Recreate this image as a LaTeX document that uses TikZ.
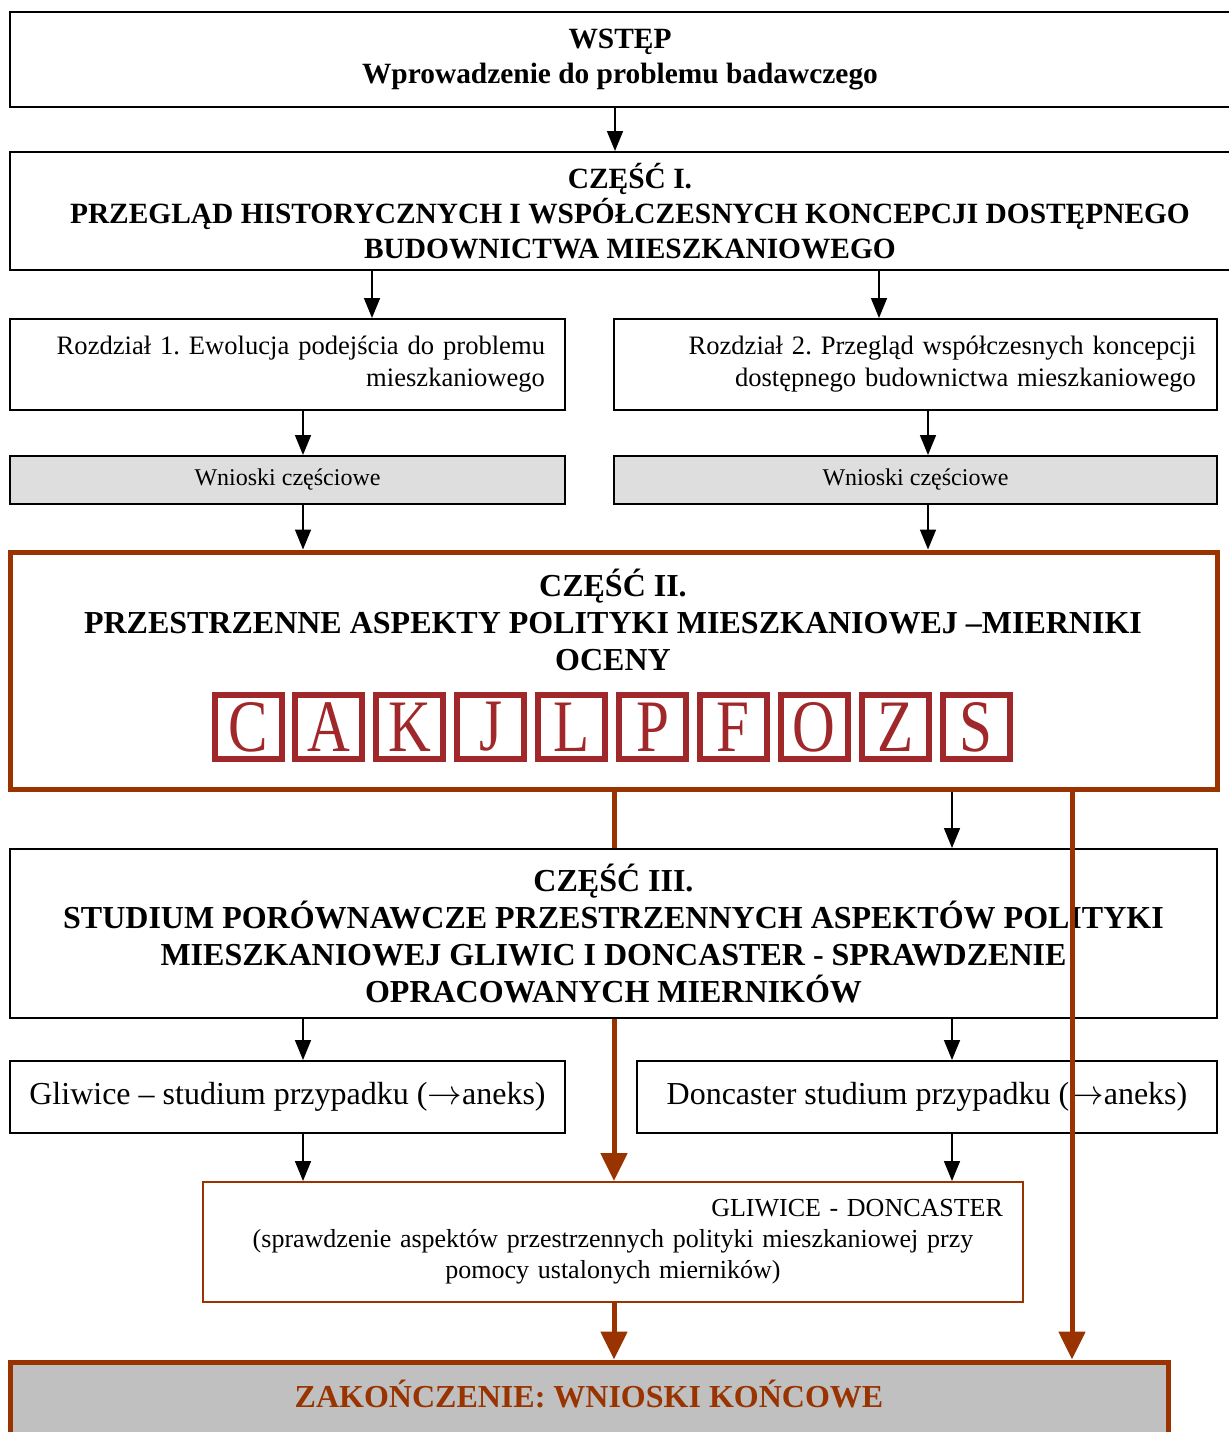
\documentclass[tikz,border=0pt]{standalone}
\usepackage{fontspec}
\setmainfont{Liberation Serif}
\newfontfamily\letterfont[FakeStretch=0.8]{Liberation Serif}
\usetikzlibrary{arrows.meta}
\frenchspacing

\definecolor{rust}{HTML}{993300}
\definecolor{brick}{HTML}{A0282A}
\definecolor{wngrey}{HTML}{DEDEDE}
\definecolor{endgrey}{HTML}{C0C0C0}

\begin{document}
\begin{tikzpicture}[x=0.5pt, y=-0.5pt,
    box/.style={draw, line width=1pt, fill=white, rectangle, inner sep=0pt, align=center},
    title/.style={font=\bfseries\fontsize{14.7}{17.5}\selectfont},
    bigtitle/.style={font=\bfseries\fontsize{16}{18.4}\selectfont},
    plain/.style={font=\fontsize{13.3}{16}\selectfont},
    letterbox/.style={draw=brick, line width=3pt, fill=white, minimum width=33.5pt, minimum height=32pt,
        inner sep=0pt, text=brick, font=\letterfont\fontsize{37}{37}\selectfont},
    arr/.style={-{Triangle[width=8pt,length=10pt]}, line width=0.8pt},
    rustline/.style={draw=rust, line width=2.5pt},
    rustarr/.style={rustline, -{Triangle[width=13pt,length=14pt]}}]

\path[fill=white] (0,0) rectangle (1229,1432);
\useasboundingbox (0,0) rectangle (1229,1432);

% columns for the connectors
\coordinate (colTop) at (615,0);
\coordinate (colI) at (372,0);
\coordinate (colII) at (879,0);
\coordinate (colA) at (303,0);
\coordinate (colB) at (928,0);
\coordinate (colC) at (952,0);
\coordinate (colM) at (614,0);
\coordinate (colR) at (1072,0);

\node[box, title, minimum width=610pt, minimum height=47.5pt] (wstep) at (620,59.5)
    {WSTĘP\\Wprowadzenie do problemu badawczego};
\node[box, title, minimum width=620pt, minimum height=59pt] (czesc1) at (630,211)
    {CZĘŚĆ I.\\PRZEGLĄD HISTORYCZNYCH I WSPÓŁCZESNYCH KONCEPCJI DOSTĘPNEGO\\BUDOWNICTWA MIESZKANIOWEGO};

\node[box, plain, align=right, text width=257.5pt, minimum width=277.5pt, minimum height=45.5pt] (rozdz1) at (287.5,364.5)
    {Rozdział 1. Ewolucja podejścia do problemu\\mieszkaniowego};
\node[box, plain, align=right, text width=280.5pt, minimum width=301.5pt, minimum height=45.5pt] (rozdz2) at (915.5,364.5)
    {Rozdział 2. Przegląd współczesnych koncepcji\\dostępnego budownictwa mieszkaniowego};

\node[box, fill=wngrey, font=\fontsize{12}{14}\selectfont, minimum width=277.5pt, minimum height=24pt] (wn1) at (287.5,480)
    {Wnioski częściowe};
\node[box, fill=wngrey, font=\fontsize{12}{14}\selectfont, minimum width=301.5pt, minimum height=24pt] (wn2) at (915.5,480)
    {Wnioski częściowe};

% part II with the measures
\node[box, draw=rust, line width=2.5pt, minimum width=603.5pt, minimum height=118.5pt] (czesc2) at (613.5,670.5) {};
\node[bigtitle, align=center] (czesc2txt) at (613,620)
    {CZĘŚĆ II.\\PRZESTRZENNE ASPEKTY POLITYKI MIESZKANIOWEJ –MIERNIKI\\OCENY};
\foreach \l [count=\i from 0] in {C,A,K,J,L,P,F,O,Z,S}
    \node[letterbox] (let\l) at (248+80.9*\i,727) {\l};

\node[box, bigtitle, minimum width=603.5pt, minimum height=84.5pt] (czesc3) at (613.5,933.5)
    {CZĘŚĆ III.\\STUDIUM PORÓWNAWCZE PRZESTRZENNYCH ASPEKTÓW POLITYKI\\MIESZKANIOWEJ GLIWIC I DONCASTER - SPRAWDZENIE\\OPRACOWANYCH MIERNIKÓW};

\node[box, font=\fontsize{16}{19}\selectfont, minimum width=277.5pt, minimum height=36pt] (gliwice) at (287.5,1097)
    {Gliwice – studium przypadku ($\rightarrow$aneks)};
\node[box, font=\fontsize{16}{19}\selectfont, minimum width=290pt, minimum height=36pt] (doncaster) at (927,1097)
    {Doncaster studium przypadku ($\rightarrow$aneks)};

\node[box, draw=rust, font=\fontsize{13}{15.5}\selectfont, text width=390pt, minimum width=410pt, minimum height=60pt] (gd) at (613,1242)
    {\makebox[\linewidth][r]{GLIWICE - DONCASTER}\\(sprawdzenie aspektów przestrzennych polityki mieszkaniowej przy\\pomocy ustalonych mierników)};

\node[box, draw=rust, line width=2.5pt, fill=endgrey, minimum width=579pt, minimum height=48pt] (final) at (589,1410) {};
\node[font=\bfseries\fontsize{16}{19}\selectfont, text=rust] (finaltxt) at (589,1394)
    {ZAKOŃCZENIE: WNIOSKI KOŃCOWE};

% black connectors
\draw[arr] (wstep.south -| colTop) -- (czesc1.north -| colTop);
\draw[arr] (czesc1.south -| colI) -- (rozdz1.north -| colI);
\draw[arr] (czesc1.south -| colII) -- (rozdz2.north -| colII);
\draw[arr] (rozdz1.south -| colA) -- (wn1.north -| colA);
\draw[arr] (rozdz2.south -| colB) -- (wn2.north -| colB);
\draw[arr] (wn1.south -| colA) -- (czesc2.north -| colA);
\draw[arr] (wn2.south -| colB) -- (czesc2.north -| colB);
\draw[arr] (czesc2.south -| colC) -- (czesc3.north -| colC);
\draw[arr] (czesc3.south -| colA) -- (gliwice.north -| colA);
\draw[arr] (czesc3.south -| colC) -- (doncaster.north -| colC);
\draw[arr] (gliwice.south -| colA) -- (gd.north -| colA);
\draw[arr] (doncaster.south -| colC) -- (gd.north -| colC);

% rust connectors
\draw[rustline] (czesc2.south -| colM) -- (czesc3.north -| colM);
\draw[rustarr] (czesc3.south -| colM) -- (gd.north -| colM);
\draw[rustarr] (gd.south -| colM) -- (final.north -| colM);
\draw[rustarr] (czesc2.south -| colR) -- (final.north -| colR);
\end{tikzpicture}
\end{document}
